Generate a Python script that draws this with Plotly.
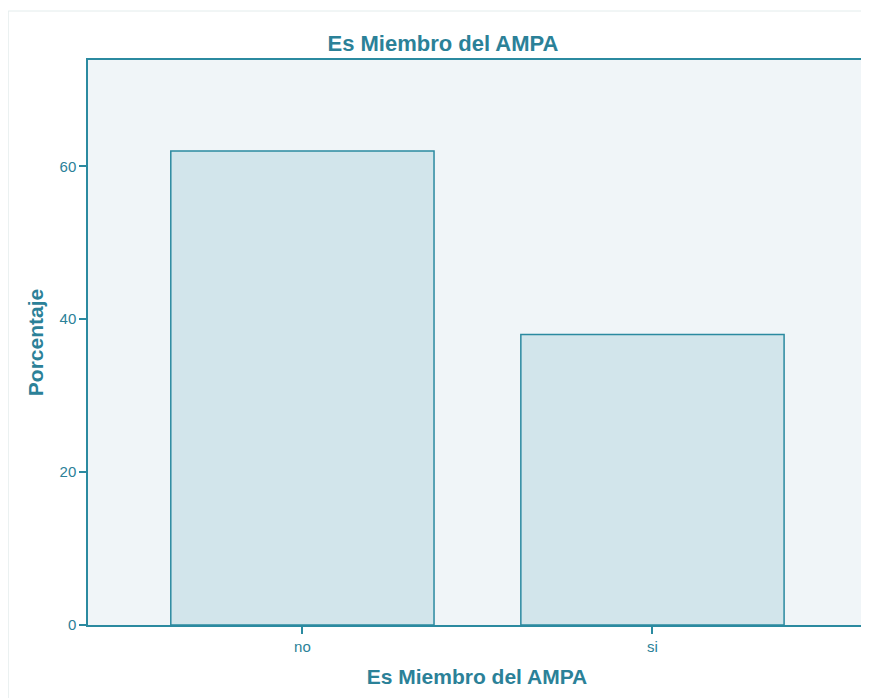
import plotly.graph_objects as go

# data
categorias = ["no", "si"]
porcentaje = [62.0, 38.0]
y_ticks = [0, 20, 40, 60]

teal = "#2b8aa0"
texto = "#2b8198"

fig = go.Figure()
fig.add_trace(go.Bar(
    x=categorias,
    y=porcentaje,
    width=0.752,
    marker=dict(color="#d2e5eb", line=dict(color=teal, width=1.5)),
    hoverinfo="x+y",
))

fig.update_layout(
    width=861,
    height=690,
    margin=dict(l=80, r=1, t=52, b=73),
    paper_bgcolor="white",
    plot_bgcolor="#f0f5f8",
    font=dict(family="Liberation Sans, Arial, sans-serif", size=15, color=texto),
    title=dict(
        text="<b>Es Miembro del AMPA</b>",
        x=435 / 861, xref="container", xanchor="center",
        y=1 - 35 / 690, yref="container", yanchor="middle",
        font=dict(size=22, color=texto),
    ),
    showlegend=False,
)

fig.update_xaxes(
    range=[-0.6125, 1.61],
    showgrid=False,
    showline=True, linecolor=teal, linewidth=1.5, mirror=True,
    ticks="outside", ticklen=7, tickcolor=teal, tickwidth=1.5,
    title=dict(text="<b>Es Miembro del AMPA</b>", font=dict(size=21, color=texto), standoff=16),
    zeroline=False,
)
fig.update_yaxes(
    range=[0, 73.9],
    tickvals=y_ticks,
    showgrid=False,
    showline=True, linecolor=teal, linewidth=1.5, mirror=True,
    ticks="outside", ticklen=7, tickcolor=teal, tickwidth=1.5,
    title=dict(text="<b>Porcentaje</b>", font=dict(size=21, color=texto), standoff=10),
    zeroline=False,
)

# faint outer frame around the chart
fig.add_shape(
    type="rect", xref="paper", yref="paper",
    x0=-80 / 780, x1=1.2, y0=-0.2, y1=(617 - 3) / 565,
    line=dict(color="#e3ecec", width=1), layer="below",
)

fig.write_html("out.html")
